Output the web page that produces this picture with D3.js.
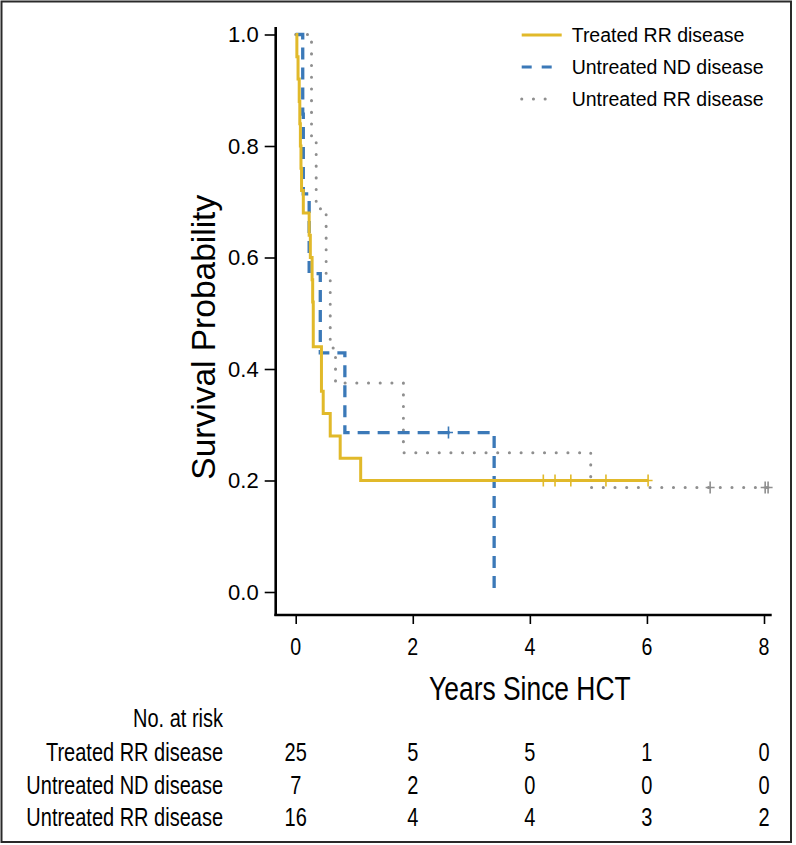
<!DOCTYPE html>
<html><head><meta charset="utf-8">
<script src="https://cdn.jsdelivr.net/npm/d3@7/dist/d3.min.js"></script>
<style>body{margin:0;background:#fff} svg{display:block}</style>
</head><body><div id="chart"></div>
<script>
// ---- data ----
const seriesNames = ["Treated RR disease", "Untreated ND disease", "Untreated RR disease"];
const treatedTimes = [0, 0.02, 0.04, 0.06, 0.07, 0.08, 0.09, 0.10, 0.13, 0.23, 0.25, 0.28, 0.29, 0.30, 0.44, 0.47, 0.59, 0.76, 1.11, 6.02];
const treatedSurv  = [1, 0.96, 0.92, 0.88, 0.84, 0.80, 0.76, 0.72, 0.68, 0.64, 0.60, 0.56, 0.52, 0.44, 0.36, 0.32, 0.28, 0.24, 0.20, 0.20];
const treatedCensor = [4.23, 4.43, 4.70, 5.30, 6.02];
const ndTimes = [0, 0.12, 0.13, 0.23, 0.42, 0.84, 3.39];
const ndSurv  = [1, 0.857, 0.714, 0.571, 0.429, 0.286, 0];
const ndCensor = [2.61];
const rrTimes = [0, 0.27, 0.35, 0.52, 0.59, 0.68, 1.84, 5.04, 8.07];
const rrSurv  = [1, 0.8125, 0.6875, 0.5625, 0.4375, 0.375, 0.25, 0.1875, 0.1875];
const rrCensor = [7.08, 8.02, 8.07];
const xTicks = [0, 2, 4, 6, 8];
const yTicks = [0, 0.2, 0.4, 0.6, 0.8, 1.0];
const riskTitle = "No. at risk";
const riskTreated = [25, 5, 5, 1, 0];
const riskUntreatedND = [7, 2, 0, 0, 0];
const riskUntreatedRR = [16, 4, 4, 3, 2];
const xTitle = "Years Since HCT";
const yTitle = "Survival Probability";

// ---- styles ----
const colors = ["#E1B92A", "#3B79B8", "#8F8F8F"];
const dashes = [null, "12 8", "0.1 11.6"];
const caps = ["butt", "butt", "round"];
const W = 796, H = 845;
const sans = "'Liberation Sans', Arial, sans-serif";
const cond = 0.8;

const svg = d3.select("#chart").append("svg").attr("width", W).attr("height", H);

svg.append("rect").attr("x", 1.5).attr("y", 1.5).attr("width", 789.5).attr("height", 840.5)
  .attr("fill", "#fff").attr("stroke", "#2a2a2a").attr("stroke-width", 2);

const x = d3.scaleLinear().domain([0, 8]).range([295.7, 764]);
const y = d3.scaleLinear().domain([0, 1]).range([592, 34.5]);
const axisX = 275.7, axisY = 615;

// y axis
const gy = svg.append("g").attr("transform", `translate(${axisX},0)`)
  .call(d3.axisLeft(y).tickValues(yTicks).tickFormat(d3.format(".1f")).tickSize(11).tickPadding(6));
gy.select(".domain").remove();
gy.selectAll(".tick line").attr("stroke", "#000").attr("stroke-width", 1.6);
gy.selectAll(".tick text").attr("font-family", sans).attr("font-size", 22).attr("fill", "#000");
svg.append("line").attr("x1", axisX).attr("x2", axisX).attr("y1", 27).attr("y2", axisY + 1)
  .attr("stroke", "#000").attr("stroke-width", 2.6);

// x axis (ticks by d3, labels condensed)
const gx = svg.append("g").attr("transform", `translate(0,${axisY})`)
  .call(d3.axisBottom(x).tickValues(xTicks).tickFormat("").tickSize(9));
gx.select(".domain").remove();
gx.selectAll(".tick line").attr("stroke", "#000").attr("stroke-width", 1.6);
svg.append("g").selectAll("text").data(xTicks).enter().append("text")
  .attr("transform", d => `translate(${x(d)},655) scale(${cond},1)`)
  .attr("text-anchor", "middle").attr("font-family", sans).attr("font-size", 24.5).text(d => d);
svg.append("line").attr("x1", axisX - 1.3).attr("x2", 771.7).attr("y1", axisY).attr("y2", axisY)
  .attr("stroke", "#000").attr("stroke-width", 2.6);

// axis titles
svg.append("text").attr("transform", `translate(${(x(0)+x(8))/2},700) scale(${cond},1)`)
  .attr("text-anchor", "middle").attr("font-family", sans).attr("font-size", 33).text(xTitle);
svg.append("text").attr("transform", `translate(215,${(y(0)+y(1))/2 + 24}) rotate(-90)`)
  .attr("text-anchor", "middle").attr("font-family", sans).attr("font-size", 33.5).text(yTitle);

// curves
const line = d3.line().x(d => x(d[0])).y(d => y(d[1])).curve(d3.curveStepAfter);
const series = [
  {times: treatedTimes, surv: treatedSurv, cens: treatedCensor},
  {times: ndTimes, surv: ndSurv, cens: ndCensor},
  {times: rrTimes, surv: rrSurv, cens: rrCensor}
];
function survAt(s, t) {
  let v = s.surv[0];
  s.times.forEach((tt, i) => { if (tt <= t) v = s.surv[i]; });
  return v;
}
[2, 1, 0].forEach(i => {
  const s = series[i];
  const pts = s.times.map((t, k) => [t, s.surv[k]]);
  svg.append("path").attr("d", line(pts)).attr("fill", "none")
    .attr("stroke", colors[i]).attr("stroke-width", i === 1 ? 3.3 : 3)
    .attr("stroke-dasharray", dashes[i]).attr("stroke-linecap", caps[i]);
  svg.selectAll(null).data(s.cens).enter().append("path")
    .attr("transform", t => `translate(${x(t)},${y(survAt(s, t))})`)
    .attr("d", "M-4.5,0H4.5M0,-6V6").attr("stroke", colors[i]).attr("stroke-width", 1.6).attr("fill", "none");
});

// legend
const lg = svg.append("g");
const legY = [35, 67, 99];
seriesNames.forEach((n, i) => {
  lg.append("line").attr("x1", 521.7).attr("x2", i === 0 ? 561.7 : 556).attr("y1", legY[i]).attr("y2", legY[i])
    .attr("stroke", colors[i]).attr("stroke-width", 3)
    .attr("stroke-dasharray", i === 1 ? "10 10" : (i === 2 ? "0.1 11.6" : null))
    .attr("stroke-linecap", caps[i]);
  lg.append("text").attr("x", 571.7).attr("y", legY[i]).attr("dy", "0.36em")
    .attr("font-family", sans).attr("font-size", 19.5).text(n);
});

// risk table
const riskRows = [riskTreated, riskUntreatedND, riskUntreatedRR];
const rowY = [727, 761, 794, 826];
const riskFont = 25;
svg.append("text").attr("transform", `translate(223,${rowY[0]}) scale(${cond},1)`)
  .attr("text-anchor", "end").attr("font-family", sans).attr("font-size", riskFont).text(riskTitle);
riskRows.forEach((row, r) => {
  svg.append("text").attr("transform", `translate(223,${rowY[r+1]}) scale(${cond},1)`)
    .attr("text-anchor", "end").attr("font-family", sans).attr("font-size", riskFont).text(seriesNames[r]);
  row.forEach((v, k) => {
    svg.append("text").attr("transform", `translate(${x(xTicks[k])},${rowY[r+1]}) scale(${cond},1)`)
      .attr("text-anchor", "middle").attr("font-family", sans).attr("font-size", riskFont).text(v);
  });
});
</script></body></html>
